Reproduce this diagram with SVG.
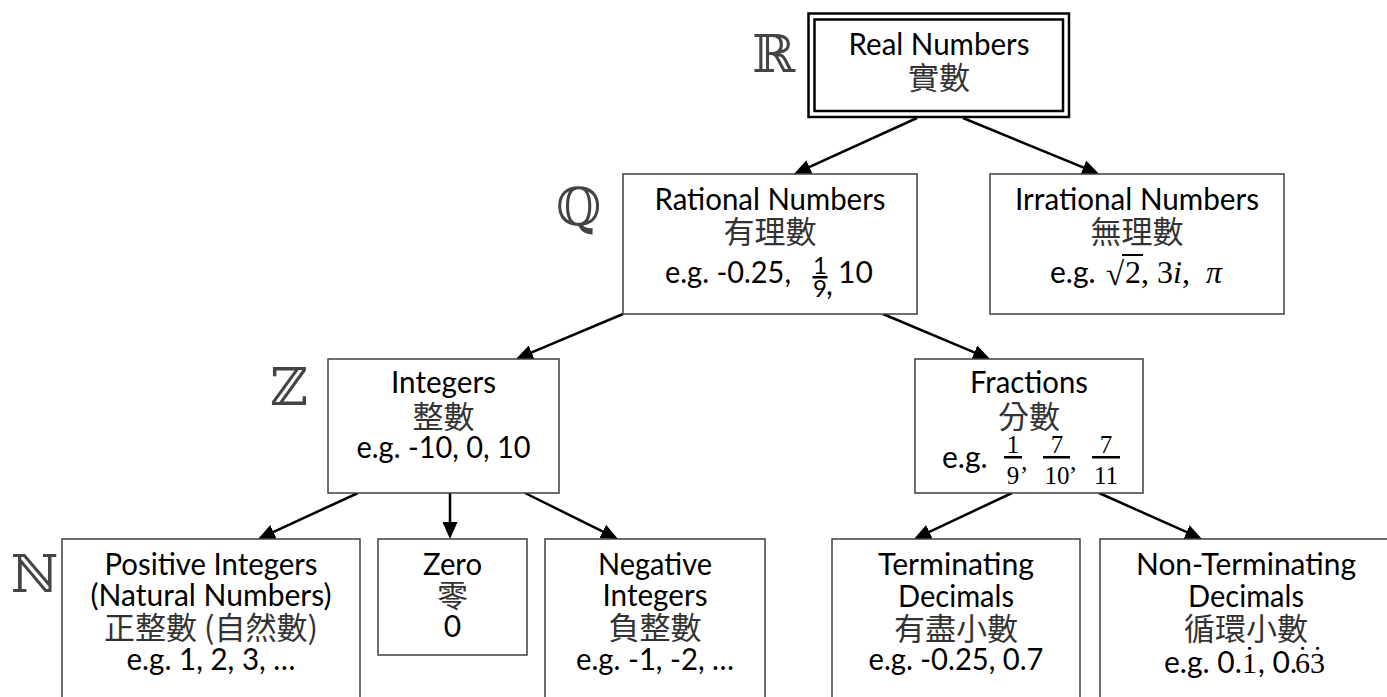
<svg xmlns="http://www.w3.org/2000/svg" width="1387" height="697" viewBox="0 0 1387 697">
<style>
.box{fill:#fff;stroke:#3f3f3f;stroke-width:1.5}
.dbl{fill:none;stroke:#000;stroke-width:2.5}
.t{font-family:Lato,"Liberation Sans",sans-serif;font-size:30px;fill:#000;text-anchor:middle}
.ts{font-family:Lato,"Liberation Sans",sans-serif;font-size:30px;fill:#000}
.c{font-family:"Noto Sans CJK TC","Noto Sans CJK SC",sans-serif;font-size:31px;fill:#333;text-anchor:middle}
.m{font-family:"Liberation Serif","DejaVu Serif",serif;fill:#000}
.fs{font-family:Lato,"Liberation Sans",sans-serif;font-size:24px;fill:#000;text-anchor:middle}
.fm{font-family:"Liberation Serif","DejaVu Serif",serif;font-size:25px;fill:#000;text-anchor:middle}
.dot{font-family:"Liberation Serif","DejaVu Serif",serif;font-size:30px;fill:#000;text-anchor:middle}
.sym{font-family:"DejaVu Serif","DejaVu Sans",serif;font-size:52px;fill:#444}
.conn line{stroke:#000;stroke-width:2.5;marker-end:url(#ah)}
</style>
<defs>
<marker id="ah" viewBox="0 0 17 15" refX="7" refY="7.5" markerWidth="17" markerHeight="15" markerUnits="userSpaceOnUse" orient="auto">
<path d="M0,0 L17,7.5 L0,15 Z" fill="#000"/>
</marker>
</defs>
<rect width="1387" height="697" fill="#fff"/>

<g id="connectors" class="conn">
<line x1="917" y1="118" x2="803.1" y2="169.9"/>
<line x1="963" y1="118" x2="1089.8" y2="170.2"/>
<line x1="623" y1="314" x2="525.2" y2="355.1"/>
<line x1="883" y1="314" x2="980.8" y2="355.1"/>
<line x1="358" y1="493" x2="267.1" y2="534.8"/>
<line x1="450" y1="493" x2="450" y2="529"/>
<line x1="525" y1="493" x2="609" y2="534.6"/>
<line x1="1012" y1="493" x2="923" y2="534.8"/>
<line x1="1099" y1="493" x2="1192.9" y2="534.9"/>
</g>

<g id="set-symbols">
<text class="sym" x="752" y="72">ℝ</text>
<text class="sym" x="556" y="225">ℚ</text>
<text class="sym" x="270" y="405">ℤ</text>
<text class="sym" x="11" y="592">ℕ</text>
</g>

<g id="real">
<rect class="dbl" x="808.5" y="13.5" width="260.5" height="103.5"/>
<rect class="dbl" x="814.5" y="19.5" width="248.5" height="91.5"/>
<text class="t" x="939" y="55" textLength="181" lengthAdjust="spacingAndGlyphs">Real Numbers</text>
<text class="c" x="939" y="89">實數</text>
</g>

<g id="rational">
<rect class="box" x="623" y="174" width="294" height="140"/>
<text class="t" x="770" y="210" textLength="231" lengthAdjust="spacingAndGlyphs">Rational Numbers</text>
<text class="c" x="770" y="243">有理數</text>
<text class="ts" x="665" y="283" textLength="126" lengthAdjust="spacingAndGlyphs">e.g. -0.25,</text>
<text class="fs" x="820" y="274">1</text>
<rect x="812.5" y="276" width="15" height="2.5" fill="#000"/>
<text class="fs" x="820" y="297">9</text>
<text class="ts" x="826" y="295" font-size="24">,</text>
<text class="ts" x="838" y="283">10</text>
</g>

<g id="irrational">
<rect class="box" x="990" y="174" width="294" height="140"/>
<text class="t" x="1137" y="210" textLength="244" lengthAdjust="spacingAndGlyphs">Irrational Numbers</text>
<text class="c" x="1137" y="243">無理數</text>
<text class="ts" x="1050" y="283">e.g.</text>
<text class="m" x="1106" y="285" font-size="33">√</text>
<line x1="1122" y1="255" x2="1143" y2="255" stroke="#000" stroke-width="2"/>
<text class="m" x="1125" y="283" font-size="32">2<tspan>, 3</tspan><tspan font-style="italic">i</tspan><tspan>, </tspan><tspan font-style="italic" dx="8">π</tspan></text>
</g>

<g id="integers">
<rect class="box" x="328" y="359" width="231" height="134"/>
<text class="t" x="443.5" y="393" textLength="105" lengthAdjust="spacingAndGlyphs">Integers</text>
<text class="c" x="443.5" y="428">整數</text>
<text class="t" x="443.5" y="458" textLength="174" lengthAdjust="spacingAndGlyphs">e.g. -10, 0, 10</text>
</g>

<g id="fractions">
<rect class="box" x="915" y="359" width="228" height="134"/>
<text class="t" x="1029" y="393" textLength="118" lengthAdjust="spacingAndGlyphs">Fractions</text>
<text class="c" x="1029" y="428">分數</text>
<text class="ts" x="942" y="468">e.g.</text>
<text class="fm" x="1013" y="453">1</text>
<rect x="1004" y="456" width="18" height="2.5" fill="#000"/>
<text class="fm" x="1013" y="484">9</text>
<text class="m" x="1021" y="470" font-size="26">,</text>
<text class="fm" x="1057" y="453">7</text>
<rect x="1043" y="456" width="27" height="2.5" fill="#000"/>
<text class="fm" x="1057" y="484">10</text>
<text class="m" x="1070" y="470" font-size="26">,</text>
<text class="fm" x="1106" y="453">7</text>
<rect x="1092" y="456" width="28" height="2.5" fill="#000"/>
<text class="fm" x="1106" y="484">11</text>
</g>

<g id="positive">
<rect class="box" x="62" y="539" width="298" height="200"/>
<text class="t" x="211" y="575" textLength="213" lengthAdjust="spacingAndGlyphs">Positive Integers</text>
<text class="t" x="211" y="606" textLength="241" lengthAdjust="spacingAndGlyphs">(Natural Numbers)</text>
<text class="c" x="211" y="639">正整數 (自然數)</text>
<text class="t" x="211" y="670" textLength="169" lengthAdjust="spacingAndGlyphs">e.g. 1, 2, 3, …</text>
</g>

<g id="zero">
<rect class="box" x="378" y="539" width="149" height="116"/>
<text class="t" x="452.5" y="575" textLength="59" lengthAdjust="spacingAndGlyphs">Zero</text>
<text class="c" x="452.5" y="607">零</text>
<text class="t" x="452.5" y="637">0</text>
</g>

<g id="negative">
<rect class="box" x="545" y="539" width="220" height="200"/>
<text class="t" x="655" y="575" textLength="114" lengthAdjust="spacingAndGlyphs">Negative</text>
<text class="t" x="655" y="606" textLength="105" lengthAdjust="spacingAndGlyphs">Integers</text>
<text class="c" x="655" y="639">負整數</text>
<text class="t" x="655" y="670" textLength="158" lengthAdjust="spacingAndGlyphs">e.g. -1, -2, …</text>
</g>

<g id="terminating">
<rect class="box" x="832" y="539" width="248" height="200"/>
<text class="t" x="956" y="575" textLength="156" lengthAdjust="spacingAndGlyphs">Terminating</text>
<text class="t" x="956" y="607" textLength="116" lengthAdjust="spacingAndGlyphs">Decimals</text>
<text class="c" x="956" y="640">有盡小數</text>
<text class="t" x="956" y="670" textLength="175" lengthAdjust="spacingAndGlyphs">e.g. -0.25, 0.7</text>
</g>

<g id="non-terminating">
<rect class="box" x="1100" y="539" width="320" height="200"/>
<text class="t" x="1246" y="575" textLength="220" lengthAdjust="spacingAndGlyphs">Non-Terminating</text>
<text class="t" x="1246" y="607" textLength="116" lengthAdjust="spacingAndGlyphs">Decimals</text>
<text class="c" x="1246" y="640">循環小數</text>
<text class="ts" y="673"><tspan x="1164">e.g. 0.</tspan><tspan class="m" x="1242">1</tspan><tspan x="1258">, 0.</tspan><tspan class="m" x="1295">63</tspan></text>
<text class="dot" x="1249.5" y="667">˙</text>
<text class="dot" x="1302.5" y="667">˙</text>
<text class="dot" x="1317.5" y="667">˙</text>
</g>
</svg>
